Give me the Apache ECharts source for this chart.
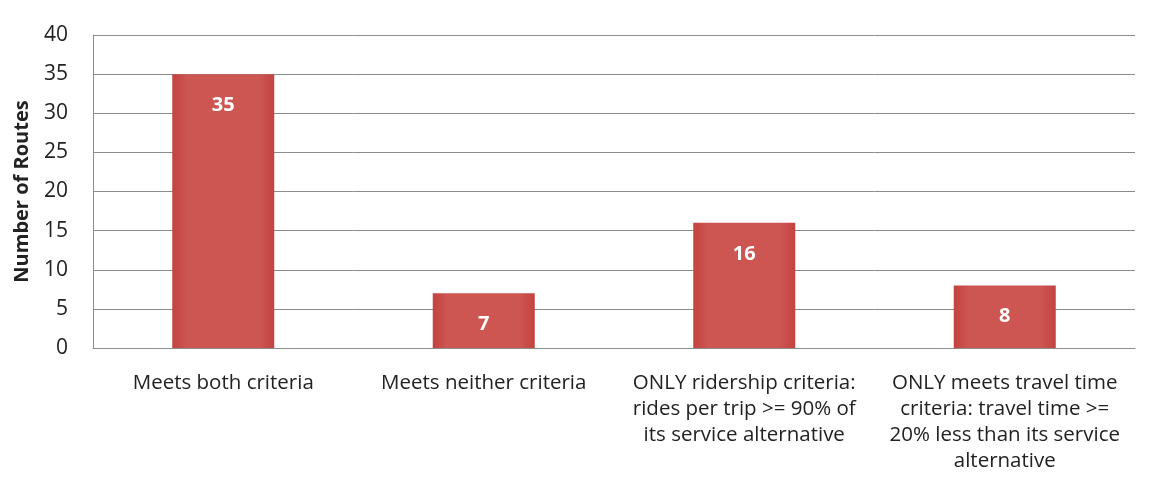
<!DOCTYPE html>
<html>
<head>
<meta charset="utf-8">
<script src="https://cdn.jsdelivr.net/npm/echarts@6/dist/echarts.min.js"></script>
<style>
  html, body { margin: 0; padding: 0; background: #fff; }
  #chart { width: 1149px; height: 485px; }
</style>
</head>
<body>
<div id="chart"></div>
<script>
// 类目与数值
const categories = [
    'Meets both criteria',
    'Meets neither criteria',
    'ONLY ridership criteria:\nrides per trip >= 90% of\nits service alternative',
    'ONLY meets travel time\ncriteria: travel time >=\n20% less than its service\nalternative'
];
const routeCounts = [35, 7, 16, 8];
const yTicks = [0, 5, 10, 15, 20, 25, 30, 35, 40];

const chart = echarts.init(document.getElementById('chart'));

const option = {
    animation: false,
    textStyle: { fontFamily: 'Open Sans' },
    grid: { left: 93, right: 14, top: 35, bottom: 137 },
    xAxis: {
        type: 'category',
        data: categories,
        axisTick: { show: false },
        axisLine: { lineStyle: { color: '#8c8c8c', width: 1 } },
        axisLabel: {
            interval: 0,
            color: '#222',
            fontSize: 20.5,
            lineHeight: 26,
            margin: 22
        }
    },
    yAxis: {
        type: 'value',
        min: yTicks[0],
        max: yTicks[yTicks.length - 1],
        interval: 5,
        name: 'Number of Routes',
        nameLocation: 'middle',
        nameGap: 61,
        nameTextStyle: { fontSize: 20, fontWeight: 'bold', color: '#222' },
        axisLine: { show: true, lineStyle: { color: '#8c8c8c' } },
        axisTick: { show: false },
        axisLabel: { color: '#222', fontSize: 21, margin: 25 },
        splitLine: { lineStyle: { color: '#8c8c8c', width: 1 } }
    },
    series: [{
        type: 'bar',
        data: routeCounts,
        barWidth: 102,
        itemStyle: {
            color: new echarts.graphic.LinearGradient(0, 0, 1, 0, [
                { offset: 0, color: '#c3433f' },
                { offset: 0.15, color: '#cd5653' },
                { offset: 0.85, color: '#cd5653' },
                { offset: 1, color: '#c3433f' }
            ])
        },
        label: {
            show: true,
            position: 'insideTop',
            distance: 21,
            color: '#fff',
            fontSize: 20,
            fontWeight: 'bold'
        }
    }]
};

chart.setOption(option);
</script>
</body>
</html>
